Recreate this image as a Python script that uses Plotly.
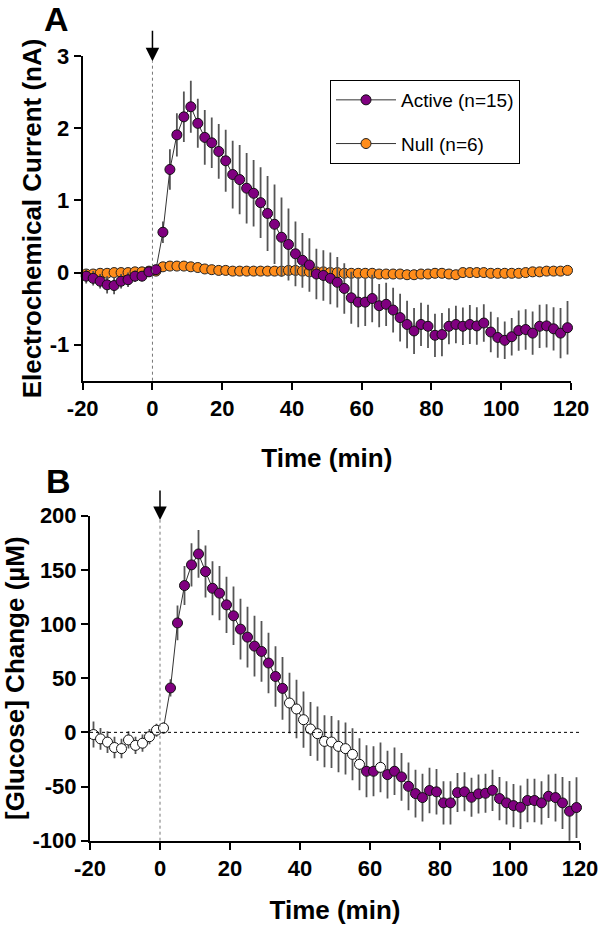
import plotly.graph_objects as go

# ---------------- data ----------------
time_min = [-19, -17, -15, -13, -11, -9, -7, -5, -3, -1,
            1, 3, 5, 7, 9, 11, 13, 15, 17, 19,
            21, 23, 25, 27, 29, 31, 33, 35, 37, 39,
            41, 43, 45, 47, 49, 51, 53, 55, 57, 59,
            61, 63, 65, 67, 69, 71, 73, 75, 77, 79,
            81, 83, 85, 87, 89, 91, 93, 95, 97, 99,
            101, 103, 105, 107, 109, 111, 113, 115, 117, 119]

active_current = [-0.05, -0.08, -0.12, -0.17, -0.18, -0.12, -0.10, -0.05, -0.05, 0.01,
                  0.04, 0.56, 1.43, 1.91, 2.16, 2.30, 2.07, 1.875, 1.80, 1.68,
                  1.55, 1.36, 1.29, 1.17, 1.10, 0.97, 0.82, 0.67, 0.49, 0.39,
                  0.26, 0.17, 0.105, -0.02, -0.04, -0.08, -0.135, -0.22, -0.35, -0.41,
                  -0.41, -0.36, -0.46, -0.44, -0.52, -0.625, -0.72, -0.81, -0.72, -0.745,
                  -0.87, -0.86, -0.745, -0.72, -0.745, -0.72, -0.74, -0.70, -0.825, -0.90,
                  -0.94, -0.89, -0.805, -0.79, -0.84, -0.745, -0.74, -0.78, -0.84, -0.765]
active_sem = [0.10, 0.10, 0.10, 0.12, 0.12, 0.10, 0.10, 0.08, 0.07, 0.05,
              0.05, 0.15, 0.28, 0.30, 0.35, 0.36, 0.34, 0.38, 0.35, 0.38,
              0.43, 0.47, 0.48, 0.49, 0.46, 0.49, 0.52, 0.55, 0.55, 0.50,
              0.45, 0.38, 0.37, 0.35, 0.35, 0.36, 0.35, 0.35, 0.36, 0.35,
              0.33, 0.33, 0.30, 0.30, 0.31, 0.33, 0.33, 0.32, 0.30, 0.30,
              0.30, 0.30, 0.25, 0.26, 0.26, 0.27, 0.26, 0.26, 0.28, 0.28,
              0.26, 0.26, 0.28, 0.28, 0.30, 0.30, 0.30, 0.30, 0.35, 0.37]

null_current = [-0.02, -0.02, -0.01, -0.01, 0.0, 0.0, 0.0, 0.01, 0.01, 0.02,
                0.02, 0.08, 0.09, 0.09, 0.09, 0.08, 0.07, 0.05, 0.04, 0.03,
                0.03, 0.02, 0.02, 0.02, 0.02, 0.02, 0.02, 0.02, 0.02, 0.03,
                0.03, 0.02, 0.01, 0.01, 0.01, 0.0, 0.0, -0.01, -0.01, -0.01,
                -0.01, -0.01, -0.02, -0.02, -0.02, -0.02, -0.03, -0.03, -0.02, -0.02,
                -0.01, -0.01, -0.02, -0.03, 0.0, 0.0, 0.0, 0.0, -0.01, -0.01,
                -0.01, -0.01, -0.01, 0.0, 0.01, 0.01, 0.02, 0.02, 0.02, 0.03]
null_sem = [0.03] * 70

glucose_change = [-2, -6, -9, -14, -15, -7, -12, -10, -4, 2,
                  4, 41, 101, 135.5, 154.6, 164.7, 148.4, 133, 128.5, 117.7,
                  107.6, 95.3, 87.9, 79.6, 74.7, 64, 51.6, 40.6, 27.1, 21.6,
                  11.7, 3.1, -1.2, -8.3, -8.9, -12.9, -15, -20.3, -29.5, -35.9,
                  -35.9, -32.3, -39, -35.9, -41.1, -49.8, -56.5, -60.2, -53.7, -54.9,
                  -65.1, -65.1, -55.6, -54.9, -59.9, -56.8, -56.2, -53.5, -61.1, -65.1,
                  -67.6, -69.1, -62.9, -62.9, -65.1, -59, -60.2, -65.1, -72.8, -69.4]
glucose_sem = [12, 10, 10, 10, 9, 8, 8, 8, 7, 6,
               5, 8, 16, 18, 20, 22, 24, 25, 25, 26,
               27, 28, 28, 28, 28, 28, 28, 29, 28, 27,
               26, 25, 25, 24, 24, 24, 24, 24, 24, 24,
               23, 23, 22, 22, 22, 22, 22, 22, 21, 21,
               20, 20, 18, 18, 18, 18, 18, 19, 20, 20,
               20, 20, 20, 20, 20, 20, 22, 24, 28, 28]
# 1 = significant (filled), 0 = not significant (open)
glucose_significant = [0, 0, 0, 0, 0, 0, 0, 0, 0, 0,
                       0, 1, 1, 1, 1, 1, 1, 1, 1, 1,
                       1, 1, 1, 1, 1, 1, 1, 1, 0, 0,
                       0, 0, 0, 0, 0, 0, 0, 0, 0, 1,
                       1, 0, 1, 1, 1, 1, 1, 1, 1, 1,
                       1, 1, 1, 1, 1, 1, 1, 1, 1, 1,
                       1, 1, 1, 1, 1, 1, 1, 1, 1, 1]

x_ticks = [-20, 0, 20, 40, 60, 80, 100, 120]
x_ticktext = ["-20", "0", "20", "40", "60", "80", "100", "120"]
ya_ticks = [-1, 0, 1, 2, 3]
ya_ticktext = ["-1", "0", "1", "2", "3"]
yb_ticks = [-100, -50, 0, 50, 100, 150, 200]
yb_ticktext = ["-100", "-50", "0", "50", "100", "150", "200"]

# ---------------- style / geometry ----------------
PURPLE = "#800080"
ORANGE = "#FF8C1A"
FONT = "Liberation Sans, Arial, sans-serif"
W, H = 600, 925


def fx(px):
    return px / W


def fy(py):
    return 1 - py / H


fig = go.Figure()

err_style = dict(type="data", color="#555555", thickness=1.8, width=0)

fig.add_trace(go.Scatter(
    x=time_min, y=null_current, mode="lines+markers", name="Null (n=6)",
    error_y=dict(array=null_sem, **err_style),
    line=dict(color="#333333", width=1),
    marker=dict(size=10, color=ORANGE, line=dict(color="#222222", width=1)),
    cliponaxis=False, xaxis="x", yaxis="y", legendrank=2, legendgroup="null",
))
fig.add_trace(go.Scatter(
    x=time_min, y=active_current, mode="lines+markers", name="Active (n=15)",
    error_y=dict(array=active_sem, **err_style),
    line=dict(color="#333333", width=1),
    marker=dict(size=10, color=PURPLE, line=dict(color="#111111", width=1)),
    cliponaxis=False, xaxis="x", yaxis="y", legendrank=1, legendgroup="active",
))
fig.add_trace(go.Scatter(
    x=time_min, y=glucose_change, mode="lines+markers", name="[Glucose]",
    error_y=dict(array=glucose_sem, **err_style),
    line=dict(color="#333333", width=1),
    marker=dict(size=10, color=[PURPLE if s else "white" for s in glucose_significant],
                line=dict(color="#111111", width=1)),
    cliponaxis=False, xaxis="x2", yaxis="y2", showlegend=False,
))

tickfont = dict(family=FONT, size=22, color="black", weight="bold")
titlefont = dict(family=FONT, size=26, color="black", weight="bold")
ytitlefont = dict(family=FONT, size=26, color="black", weight="bold")

axis_common = dict(showline=True, linecolor="black", linewidth=2, ticks="outside",
                   ticklen=7, tickwidth=1.8, tickcolor="black", showgrid=False,
                   zeroline=False, tickfont=tickfont, automargin=False,
                   ticklabeloverflow="allow")

fig.update_layout(
    width=W, height=H, plot_bgcolor="white", paper_bgcolor="white",
    margin=dict(l=0, r=0, t=0, b=0),
    xaxis=dict(domain=[fx(82.7), fx(571)], anchor="y", range=[-20, 120],
               tickvals=x_ticks, ticktext=x_ticktext,
               title=dict(text="Time (min)", font=titlefont, standoff=29), **axis_common),
    yaxis=dict(domain=[fy(380.7), fy(56.3)], anchor="x", range=[-1.5, 3],
               tickvals=ya_ticks, ticktext=ya_ticktext,
               title=dict(text="Electrochemical Current (nA)", font=ytitlefont, standoff=1), **axis_common),
    xaxis2=dict(domain=[fx(90), fx(580)], anchor="y2", range=[-20, 120],
                tickvals=x_ticks, ticktext=x_ticktext,
                title=dict(text="Time (min)", font=titlefont, standoff=22), **axis_common),
    yaxis2=dict(domain=[fy(840.7), fy(515.7)], anchor="x2", range=[-100, 200],
                tickvals=yb_ticks, ticktext=yb_ticktext,
                title=dict(text="[Glucose] Change (µM)", font=ytitlefont, standoff=3), **axis_common),
    legend=dict(x=fx(330), y=fy(80), xanchor="left", yanchor="top",
                bordercolor="black", borderwidth=1, bgcolor="white",
                font=dict(family=FONT, size=19, color="black"),
                itemwidth=60, traceorder="grouped", tracegroupgap=16),
    showlegend=True,
)

# injection markers: dotted vertical lines and arrows
fig.add_shape(type="line", xref="x", yref="y", x0=0, x1=0, y0=-1.5, y1=2.93,
              line=dict(color="#777777", width=1, dash="dot"))
fig.add_shape(type="line", xref="x2", yref="y2", x0=0, x1=0, y0=-100, y1=196,
              line=dict(color="#777777", width=1, dash="dot"))
# zero reference line in panel B
fig.add_shape(type="line", xref="x2", yref="y2", x0=-20, x1=120, y0=0, y1=0,
              line=dict(color="black", width=1, dash="dot"))

fig.add_annotation(x=0, y=2.93, xref="x", yref="y", ax=0, ay=-32, text="",
                   showarrow=True, arrowhead=2, arrowsize=1.8, arrowwidth=1.5, arrowcolor="black")
fig.add_annotation(x=0, y=196, xref="x2", yref="y2", ax=0, ay=-31, text="",
                   showarrow=True, arrowhead=2, arrowsize=1.8, arrowwidth=1.5, arrowcolor="black")

# panel letters
fig.add_annotation(x=fx(56), y=fy(19), xref="paper", yref="paper", text="A", showarrow=False,
                   xanchor="center", yanchor="middle",
                   font=dict(family=FONT, size=34, color="black", weight="bold"))
fig.add_annotation(x=fx(58), y=fy(481), xref="paper", yref="paper", text="B", showarrow=False,
                   xanchor="center", yanchor="middle",
                   font=dict(family=FONT, size=34, color="black", weight="bold"))

# remove the default page margin so the 600x925 figure fills the window exactly
fig.write_html("out.html", config={"displayModeBar": False},
               post_script="document.body.style.margin='0px';")
